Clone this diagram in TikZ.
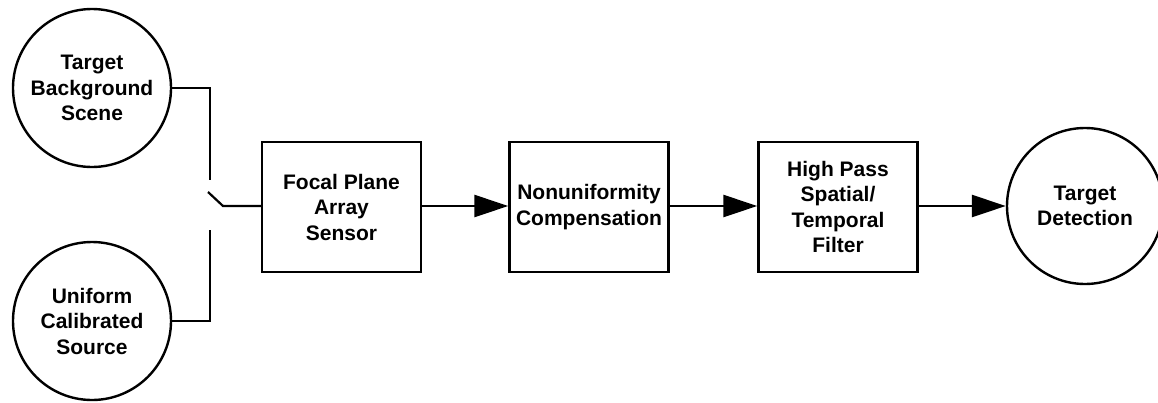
\documentclass[tikz,border=0pt]{standalone}
\usepackage{fontspec}
\setmainfont{Liberation Sans}
\usetikzlibrary{arrows.meta}
\begin{document}
\begin{tikzpicture}[x=1pt,y=-1pt,
  every node/.style={font=\fontsize{21}{25.5}\selectfont\bfseries, align=center, inner sep=0pt},
  src/.style={draw, circle, line width=2.4pt, minimum size=158pt},
  blk/.style={draw, rectangle, line width=2.4pt, minimum width=159pt, minimum height=130pt},
  wire/.style={line width=2.2pt},
  flow/.style={line width=2.4pt, -{Triangle[length=34pt,width=22pt]}}]
\useasboundingbox (0,0) rectangle (1158,402);
\node[src] (tbs) at (92,88) {Target\\Background\\Scene};
\node[src] (ucs) at (92,321) {Uniform\\Calibrated\\Source};
\node[blk] (fpa) at (341.5,207) {Focal Plane\\Array\\Sensor};
\node[blk] (nuc) at (589,207) {Nonuniformity\\Compensation};
\node[blk] (hps) at (838,207) {High Pass\\Spatial/\\Temporal\\Filter};
\node[src, minimum size=156pt] (td) at (1085,206) {Target\\Detection};
\coordinate (sw1) at (210,180);
\coordinate (sw2) at (210,230);
\coordinate (lv1) at (208,192);
\coordinate (lv2) at (223,206);
\draw[wire] (tbs.east) -| (sw1);
\draw[wire] (ucs.east) -| (sw2);
\draw[wire] (lv1) -- (lv2) -- (lv2 -| fpa.west);
\draw[flow] (fpa.east |- 0,206) -- (nuc.west |- 0,206);
\draw[flow] (nuc.east |- 0,206) -- (hps.west |- 0,206);
\draw[flow] (hps.east |- 0,206) -- (td.west |- 0,206);
\end{tikzpicture}
\end{document}
